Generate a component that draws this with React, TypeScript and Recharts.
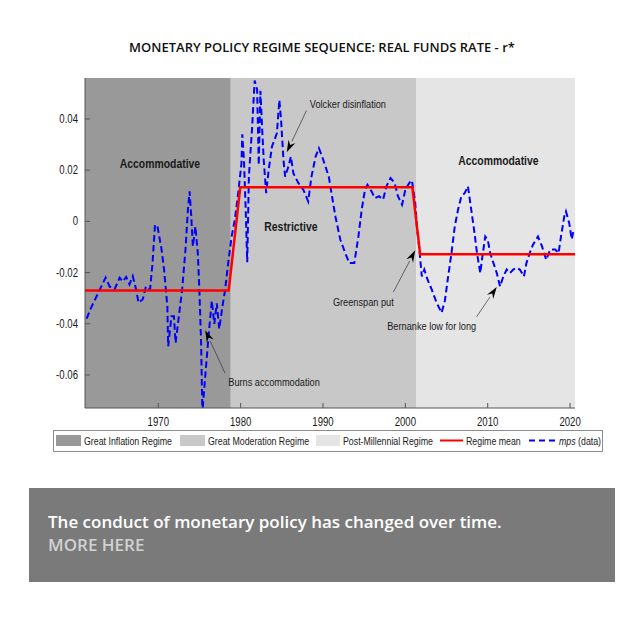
import { ComposedChart, Line, XAxis, YAxis, ReferenceArea, ReferenceLine, ReferenceDot } from 'recharts'

const mpsYears = [
  1961.3, 1961.8, 1962.4, 1963.0, 1963.6, 1964.1, 1964.7, 1965.3, 1965.7, 1966.1, 1966.5, 1966.9,
  1967.3, 1967.6, 1968.1, 1968.5, 1969.0, 1969.3, 1969.6, 1969.9, 1970.4, 1970.7, 1971.1, 1971.2,
  1971.6, 1971.9, 1972.1, 1972.5, 1972.9, 1973.3, 1973.6, 1973.8, 1974.0, 1974.2, 1974.5, 1974.8,
  1975.0, 1975.2, 1975.35, 1975.7, 1976.1, 1976.5, 1976.8, 1977.1, 1977.4, 1977.8, 1978.1, 1978.5,
  1978.9, 1979.3, 1979.7, 1980.1, 1980.2, 1980.4, 1980.6, 1980.8, 1981.0, 1981.4, 1981.7, 1982.0,
  1982.1, 1982.2, 1982.4, 1982.6, 1982.8, 1983.1, 1983.4, 1983.8, 1984.4, 1984.7, 1984.9, 1985.2,
  1985.4, 1985.8, 1986.1, 1986.4, 1987.0, 1987.6, 1988.2, 1988.6, 1989.1, 1989.5, 1989.9, 1990.3,
  1990.7, 1991.1, 1991.5, 1992.1, 1992.7, 1993.2, 1993.8, 1994.3, 1994.7, 1995.1, 1995.4, 1995.9,
  1996.3, 1996.8, 1997.3, 1997.7, 1998.2, 1998.7, 1999.1, 1999.6, 2000.0, 2000.6, 2000.8, 2001.2,
  2001.4, 2001.7, 2002.0, 2002.3, 2002.7, 2003.2, 2003.8, 2004.4, 2004.8, 2005.2, 2005.6, 2006.0,
  2006.4, 2006.8, 2007.2, 2007.6, 2008.0, 2008.4, 2008.7, 2009.1, 2009.3, 2009.7, 2010.0, 2010.3,
  2010.7, 2011.1, 2011.5, 2011.9, 2012.3, 2012.7, 2013.1, 2013.5, 2013.9, 2014.4, 2014.7, 2015.1,
  2015.5, 2016.1, 2016.6, 2017.1, 2017.6, 2018.2, 2018.6, 2018.9, 2019.3, 2019.5, 2019.9, 2020.2,
  2020.4,
]

const mpsValues = [
  -0.038, -0.034, -0.03, -0.026, -0.022, -0.0255, -0.0265, -0.022, -0.0235, -0.0217, -0.0246, -0.0214,
  -0.0265, -0.0318, -0.0305, -0.0254, -0.0266, -0.0163, -0.0013, -0.002, -0.011, -0.0188, -0.0332, -0.0488,
  -0.0371, -0.0371, -0.0475, -0.037, -0.0266, -0.011, 0.0046, 0.0117, 0.002, -0.0098, -0.002, -0.0124,
  -0.028, -0.0475, -0.075, -0.0605, -0.0449, -0.031, -0.04, -0.032, -0.042, -0.033, -0.027, -0.016,
  -0.006, 0.0008, 0.011, 0.0227, 0.034, 0.024, 0.006, -0.016, 0.0175, 0.037, 0.055, 0.0515,
  0.037, 0.022, 0.051, 0.037, 0.024, 0.011, 0.02, 0.0292, 0.0344, 0.0474, 0.04, 0.024,
  0.0175, 0.0214, 0.0253, 0.0188, 0.015, 0.0124, 0.0078, 0.0175, 0.0253, 0.0286, 0.0253, 0.0214,
  0.0175, 0.0097, 0.002, -0.0071, -0.0124, -0.0163, -0.0163, -0.0059, 0.0046, 0.0124, 0.0143, 0.0117,
  0.0091, 0.0098, 0.0085, 0.0137, 0.0169, 0.015, 0.0098, 0.0065, 0.0124, 0.0156, 0.016, 0.0072,
  -0.002, -0.011, -0.0215, -0.0188, -0.0228, -0.0266, -0.0318, -0.0357, -0.031, -0.0215, -0.0124, -0.002,
  0.0046, 0.0098, 0.011, 0.0137, 0.0046, -0.0046, -0.0124, -0.0202, -0.015, -0.0059, -0.0071, -0.0124,
  -0.0163, -0.0202, -0.0254, -0.0215, -0.0188, -0.0202, -0.0188, -0.0182, -0.0188, -0.0215, -0.0163, -0.0124,
  -0.0091, -0.0059, -0.0098, -0.015, -0.011, -0.011, -0.0124, -0.0059, 0.002, 0.0039, -0.0007, -0.007,
  -0.004,
]

const meanYears = [1961.1, 1978.55, 1979.95, 2000.85, 2001.8, 2020.6]
const meanValues = [-0.027, -0.027, 0.0133, 0.0133, -0.0128, -0.0128]

const regimeBreaks = [1961.1, 1978.8, 2001.3, 2020.6]
const regimeNames = ['Great Inflation Regime', 'Great Moderation Regime', 'Post-Millennial Regime']
const regimeColors = ['#999999', '#c8c8c8', '#e5e5e5']

const xTicks = [1970, 1980, 1990, 2000, 2010, 2020]
const yTicks = [-0.06, -0.04, -0.02, 0, 0.02, 0.04]
const xDomain = [1961.1, 2020.6]
const yDomain = [-0.0729, 0.056]

const labels = [
  { text: 'Accommodative', x: 1970.2, y: 0.0226, bold: true, anchor: 'middle' },
  { text: 'Restrictive', x: 1986.1, y: -0.002, bold: true, anchor: 'middle' },
  { text: 'Accommodative', x: 2011.3, y: 0.0238, bold: true, anchor: 'middle' },
  { text: 'Volcker disinflation', x: 1988.4, y: 0.046, bold: false, anchor: 'start' },
  { text: 'Burns accommodation', x: 1978.5, y: -0.0624, bold: false, anchor: 'start' },
  { text: 'Greenspan put', x: 1991.2, y: -0.0312, bold: false, anchor: 'start' },
  { text: 'Bernanke low for long', x: 1997.8, y: -0.0406, bold: false, anchor: 'start' },
]

const arrows = [
  { from: [1988.0, 0.0433], to: [1985.6, 0.027] },
  { from: [1978.1, -0.0593], to: [1975.7, -0.0425] },
  { from: [1998.55, -0.0276], to: [2001.2, -0.0113] },
  { from: [2008.65, -0.0373], to: [2011.1, -0.0256] },
]

const mpsData = mpsYears.map((year, i) => ({ year, mps: mpsValues[i] }))
const meanData = meanYears.map((year, i) => ({ year, mean: meanValues[i] }))

const FONT = '"Liberation Sans", Arial, sans-serif'

function SqText({ x, y, size, bold, anchor, children }: any) {
  return (
    <text
      transform={`translate(${x},${y}) scale(0.8,1)`}
      fontSize={size}
      fontWeight={bold ? 'bold' : 'normal'}
      textAnchor={anchor || 'start'}
      fontFamily={FONT}
      fill="#1a1a1a"
    >
      {children}
    </text>
  )
}

const BottomTick = ({ x, y, payload }: any) => (
  <SqText x={x} y={y + 18} size={12} anchor="middle">{payload.value}</SqText>
)

const LeftTick = ({ x, y, payload }: any) => (
  <SqText x={x - 7} y={y + 4} size={12} anchor="end">{payload.value === 0 ? '0' : payload.value}</SqText>
)

const NoLabel = () => <g />

function Arrow({ x1, y1, x2, y2 }: any) {
  const dx = x2 - x1
  const dy = y2 - y1
  const len = Math.sqrt(dx * dx + dy * dy)
  const ux = dx / len
  const uy = dy / len
  const bx = x2 - ux * 12
  const by = y2 - uy * 12
  const px = -uy * 3.8
  const py = ux * 3.8
  return (
    <g>
      <line x1={x1} y1={y1} x2={bx} y2={by} stroke="#333" strokeWidth={0.7} />
      <polygon points={`${x2},${y2} ${bx + px},${by + py} ${x2 - ux * 8},${y2 - uy * 8} ${bx - px},${by - py}`} fill="#000" />
    </g>
  )
}

function LegendBar() {
  return (
    <svg width={644} height={30} style={{ position: 'absolute', left: 0, top: 425 }}>
      <rect x={53.5} y={5.5} width={549} height={21} fill="#fff" stroke="#8c8c8c" />
      <rect x={56} y={10} width={25} height={11} fill={regimeColors[0]} />
      <SqText x={84} y={19.5} size={11}>{regimeNames[0]}</SqText>
      <rect x={180} y={10} width={25} height={11} fill={regimeColors[1]} />
      <SqText x={208} y={19.5} size={11}>{regimeNames[1]}</SqText>
      <rect x={316} y={10} width={24} height={11} fill={regimeColors[2]} />
      <SqText x={343} y={19.5} size={11}>{regimeNames[2]}</SqText>
      <line x1={440} y1={15.5} x2={463} y2={15.5} stroke="#ff0000" strokeWidth={2} />
      <SqText x={466} y={19.5} size={11}>Regime mean</SqText>
      <line x1={529} y1={15.5} x2={557} y2={15.5} stroke="#0000ff" strokeWidth={2} strokeDasharray="6 4" />
      <SqText x={559} y={19.5} size={11}>
        <tspan fontStyle="italic">mps</tspan> (data)
      </SqText>
    </svg>
  )
}

export default function App() {
  return (
    <div style={{ position: 'absolute', left: 0, top: 0, width: 644, height: 620, background: '#fff', overflow: 'hidden' }}>
      <div
        style={{
          position: 'absolute', left: 0, top: 38, width: 644, textAlign: 'center',
          fontFamily: '"Open Sans", sans-serif', fontWeight: 600, fontSize: 13, lineHeight: '18px', color: '#111',
        }}
      >
        MONETARY POLICY REGIME SEQUENCE: REAL FUNDS RATE - r*
      </div>
      <div style={{ position: 'absolute', left: 0, top: 0 }}>
        <ComposedChart width={644} height={470} margin={{ top: 78, right: 69, bottom: 42, left: 25 }}>
          <XAxis
            dataKey="year" type="number" domain={xDomain} ticks={xTicks} allowDataOverflow
            height={20} tickSize={-5} tickMargin={5} tick={BottomTick}
            axisLine={{ stroke: '#555' }} tickLine={{ stroke: '#555' }}
          />
          <XAxis
            xAxisId="t" orientation="top" dataKey="year" type="number" domain={xDomain} ticks={xTicks}
            allowDataOverflow height={0} tickSize={-5} tick={NoLabel}
            axisLine={{ stroke: '#555' }} tickLine={{ stroke: '#555' }}
          />
          <YAxis
            type="number" domain={yDomain} ticks={yTicks} allowDataOverflow width={60}
            tickSize={-5} tickMargin={5} tick={LeftTick}
            axisLine={{ stroke: '#555' }} tickLine={{ stroke: '#555' }}
          />
          <YAxis
            yAxisId="r" orientation="right" type="number" domain={yDomain} ticks={yTicks} allowDataOverflow
            width={0} tickSize={-5} tick={NoLabel}
            axisLine={{ stroke: '#555' }} tickLine={{ stroke: '#555' }}
          />
          {regimeColors.map((c, i) => (
            <ReferenceArea
              key={c}
              x1={regimeBreaks[i]}
              x2={regimeBreaks[i + 1]}
              y1={yDomain[0]}
              y2={yDomain[1]}
              fill={c}
              fillOpacity={1}
              stroke="none"
            />
          ))}
          <Line
            data={mpsData} dataKey="mps" type="linear" stroke="#0000ff" strokeWidth={2}
            strokeDasharray="6.5 3.5" dot={false} isAnimationActive={false}
          />
          <Line
            data={meanData} dataKey="mean" type="linear" stroke="#ff0000" strokeWidth={2.5}
            dot={false} isAnimationActive={false}
          />
          {arrows.map((a, i) => (
            <ReferenceLine
              key={'a' + i}
              segment={[{ x: a.from[0], y: a.from[1] }, { x: a.to[0], y: a.to[1] }]}
              shape={(p: any) => <Arrow {...p} />}
              ifOverflow="visible"
            />
          ))}
          {labels.map((l, i) => (
            <ReferenceDot
              key={'l' + i}
              x={l.x}
              y={l.y}
              r={0}
              ifOverflow="visible"
              shape={(p: any) => (
                <SqText x={p.cx} y={p.cy + 4.5} size={l.bold ? 13 : 11.5} bold={l.bold} anchor={l.anchor}>
                  {l.text}
                </SqText>
              )}
            />
          ))}
        </ComposedChart>
      </div>
      <LegendBar />
      <div
        style={{
          position: 'absolute', left: 29, top: 488, width: 586, height: 94, background: '#7a7a7a',
          boxSizing: 'border-box', paddingLeft: 19, paddingTop: 22,
          fontFamily: '"Open Sans", sans-serif', fontWeight: 600, fontSize: 17, lineHeight: '23px',
        }}
      >
        <div style={{ color: '#fff' }}>The conduct of monetary policy has changed over time.</div>
        <div style={{ color: '#d2d2d2' }}>MORE HERE</div>
      </div>
    </div>
  )
}
